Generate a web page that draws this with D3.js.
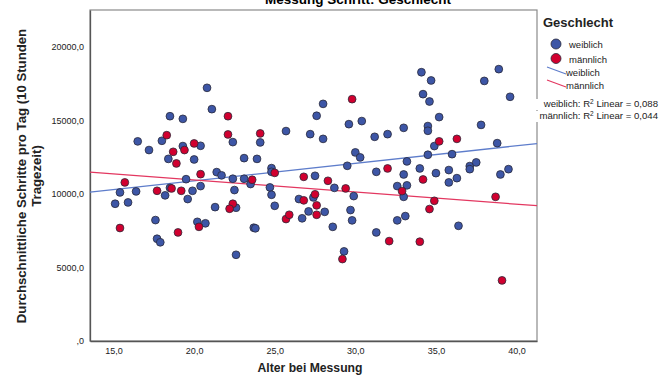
<!DOCTYPE html>
<html><head><meta charset="utf-8">
<script src="https://cdn.jsdelivr.net/npm/d3@7"></script>
<style>body{margin:0;background:#fff} svg{display:block;font-family:"Liberation Sans",Arial,sans-serif}</style>
</head><body><svg id="c" width="663" height="383"></svg>
<script>
const chartTitle = "Messung Schritt: Geschlecht";
const xTitle = "Alter bei Messung";
const yTitleLines = ["Durchschnittliche Schritte pro Tag (10 Stunden", "Tragezeit)"];
const legendTitle = "Geschlecht";
const groups = ["weiblich", "männlich"];
const xTickValues = [15, 20, 25, 30, 35, 40];
const xTickLabels = ["15,0", "20,0", "25,0", "30,0", "35,0", "40,0"];
const yTickValues = [0, 5000, 10000, 15000, 20000];
const yTickLabels = [",0", "5000,0", "10000,0", "15000,0", "20000,0"];
const r2Values = ["0,088", "0,044"];
// linear fit: steps = intercept + slope * age
const fitIntercept = [8511, 12596];
const fitSlope = [119, -82.4];

const femaleAge = [18.5,19.3,16.5,17.2,18.0,18.4,19.3,20.4,20.0,19.5,15.4,16.4,18.2,18.5,19.9,20.4,19.6,15.1,15.9,17.6,20.2,20.7,17.7,17.9,20.8,21.1,22.4,24.1,25.7,27.2,23.1,23.9,24.8,24.8,27.5,21.4,21.7,22.4,23.1,23.5,24.7,22.5,24.8,25.0,26.5,27.4,21.3,22.6,27.1,26.7,23.7,23.8,22.6,28.0,27.6,29.6,30.4,34.2,28.0,31.2,32.0,33.0,30.0,30.3,33.2,29.5,31.3,33.0,34.0,28.7,29.9,32.6,33.2,33.0,28.1,29.7,29.8,32.6,33.1,28.6,31.3,29.3,34.1,34.7,38.9,38.0,34.6,39.6,35.2,34.5,34.5,37.8,34.9,38.8,34.5,36.0,35.0,35.8,35.8,36.3,37.1,37.1,37.5,39.0,39.5,36.4];
const femaleSteps = [15280,15100,13570,12980,13610,12380,13250,13270,12340,11000,10100,10170,9900,10410,10210,10530,9650,9330,9420,8220,8100,8000,6950,6710,17210,15760,13520,13500,14270,14060,12430,12380,11750,11500,11230,11480,11260,11030,11030,10670,10440,10260,9940,9190,9650,9760,9100,9060,8810,8340,7700,7660,5860,16120,15310,14740,14950,16780,13740,13880,14060,14490,12820,12480,12210,11910,11500,11320,11730,10410,9850,10530,10580,9800,8780,8900,8200,8200,8490,7760,7380,6090,18270,17710,18480,17680,16280,16600,15220,14610,14290,14690,13250,13450,12660,12700,11410,11620,10780,11070,11890,11680,12140,11320,11680,7830];
const maleAge = [18.3,18.7,18.9,19.4,20.0,20.4,15.7,17.7,18.6,19.2,15.4,20.3,19.0,22.1,22.1,24.1,25.0,26.8,23.6,27.5,26.8,22.4,22.2,25.7,25.9,27.6,27.6,29.8,32.0,34.2,28.3,29.4,32.9,32.1,34.0,29.2,35.2,36.3,38.7,34.9,34.6,39.1];
const maleSteps = [13990,12860,12070,12980,13430,11340,10780,10210,10370,10210,7680,7760,7380,15280,14040,14110,11430,11160,10960,9970,9560,9330,8990,8290,8580,8580,9220,16440,11730,10980,10890,10370,10190,6790,6750,5570,13570,13740,9800,9530,8970,4120];

const fillColors = ["#3d56a6", "#d1002f"];
const lineColors = ["#5e7dcb", "#e33760"];

const svg = d3.select("#c");
const x = d3.scaleLinear().domain([13.54, 41.27]).range([90, 537]);
const y = d3.scaleLinear().domain([0, 22500]).range([341, 10]);

// title (cut at top, as in the reference)
svg.append("text").attr("x", 358).attr("y", 4).attr("text-anchor", "middle")
  .attr("font-size", 13.5).attr("font-weight", "bold").text(chartTitle);

// frame
svg.append("rect").attr("x", 90).attr("y", 10).attr("width", 447).attr("height", 331)
  .attr("fill", "none").attr("stroke", "#8a8a8a").attr("stroke-width", 1.2);

// axes
const xAxis = d3.axisBottom(x).tickValues(xTickValues).tickSize(0)
  .tickFormat((d, i) => xTickLabels[i]);
const gx = svg.append("g").attr("transform", "translate(0,341)").call(xAxis);
gx.select(".domain").attr("stroke", "#555").attr("stroke-width", 1.3);
gx.selectAll("text").attr("font-size", 9).attr("fill", "#222").attr("dy", "1.15em")
  .attr("font-family", "Liberation Sans, Arial, sans-serif");

const yAxis = d3.axisLeft(y).tickValues(yTickValues).tickSize(0)
  .tickFormat((d, i) => yTickLabels[i]);
const gy = svg.append("g").attr("transform", "translate(90,0)").call(yAxis);
gy.select(".domain").attr("stroke", "#555").attr("stroke-width", 1.3);
gy.selectAll("text").attr("font-size", 9).attr("fill", "#222").attr("x", -6)
  .attr("font-family", "Liberation Sans, Arial, sans-serif");

// axis titles
svg.append("text").attr("x", 310).attr("y", 372).attr("text-anchor", "middle")
  .attr("font-size", 12.2).attr("font-weight", "bold").attr("fill", "#222").text(xTitle);
const yt = svg.append("text").attr("transform", "translate(26,176) rotate(-90)")
  .attr("text-anchor", "middle").attr("font-size", 13.2).attr("font-weight", "bold").attr("fill", "#222");
yTitleLines.forEach((t, i) => yt.append("tspan").attr("x", 0).attr("dy", i === 0 ? 0 : 15).text(t));

// fit lines
const plot = svg.append("g");
const [x0, x1] = x.domain();
[0, 1].forEach(g => {
  plot.append("line")
    .attr("x1", x(x0)).attr("y1", y(fitIntercept[g] + fitSlope[g] * x0))
    .attr("x2", x(x1)).attr("y2", y(fitIntercept[g] + fitSlope[g] * x1))
    .attr("stroke", lineColors[g]).attr("stroke-width", 1.3);
});

// points
const series = [
  femaleAge.map((a, i) => ({a, s: femaleSteps[i]})),
  maleAge.map((a, i) => ({a, s: maleSteps[i]}))
];
series.forEach((data, g) => {
  plot.append("g").selectAll("circle").data(data).join("circle")
    .attr("cx", d => x(d.a)).attr("cy", d => y(d.s)).attr("r", 3.9)
    .attr("fill", fillColors[g]).attr("stroke", "#2a2a3a").attr("stroke-width", 0.8);
});

// legend
const lg = svg.append("g");
lg.append("text").attr("x", 543).attr("y", 27).attr("font-size", 13).attr("font-weight", "bold")
  .attr("fill", "#222").text(legendTitle);
groups.forEach((name, g) => {
  lg.append("circle").attr("cx", 556).attr("cy", 44 + g * 14.5).attr("r", 5)
    .attr("fill", fillColors[g]).attr("stroke", "#2a2a3a").attr("stroke-width", 0.8);
  lg.append("text").attr("x", 569).attr("y", 48 + g * 14.5).attr("font-size", 9.5).attr("fill", "#222").text(name);
  lg.append("line").attr("x1", 547).attr("y1", 67 + g * 13).attr("x2", 566).attr("y2", 74 + g * 13)
    .attr("stroke", lineColors[g]).attr("stroke-width", 1.2);
  lg.append("text").attr("x", 566).attr("y", 76 + g * 13).attr("font-size", 9.5).attr("fill", "#222").text(name);
});
// R² labels (white background covers the frame, as in the reference)
groups.forEach((name, g) => {
  const yy = 107 + g * 12;
  lg.append("rect").attr("x", 533).attr("y", yy - 8).attr("width", 128).attr("height", 11).attr("fill", "#fff");
});
groups.forEach((name, g) => {
  const yy = 107 + g * 12;
  const t = lg.append("text").attr("x", 658).attr("y", yy).attr("text-anchor", "end")
    .attr("font-size", 9.6).attr("fill", "#222");
  t.append("tspan").text(name + ": R");
  t.append("tspan").attr("font-size", 6.5).attr("dy", -3.5).text("2");
  t.append("tspan").attr("dy", 3.5).text(" Linear = " + r2Values[g]);
});
</script></body></html>
